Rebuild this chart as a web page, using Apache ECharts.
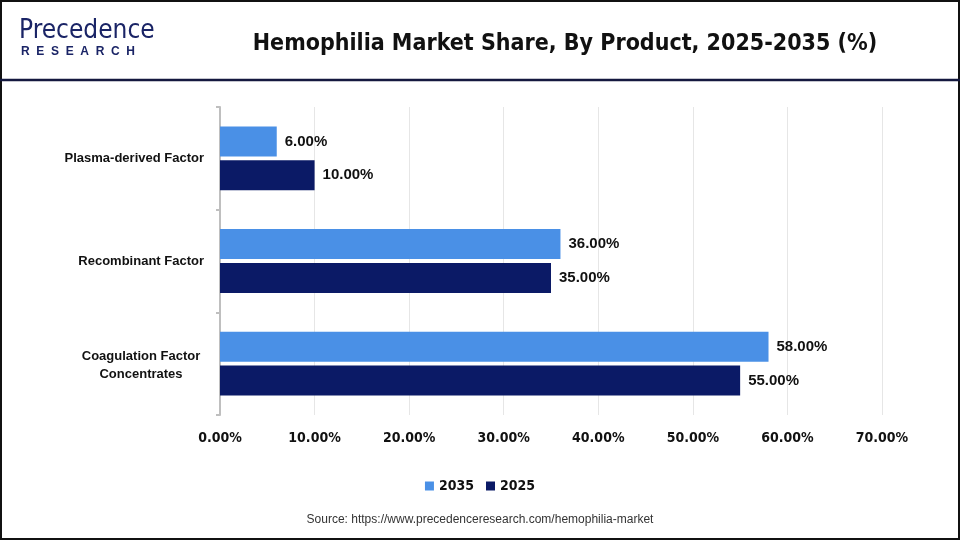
<!DOCTYPE html>
<html><head><meta charset="utf-8">
<script src="https://cdn.jsdelivr.net/npm/echarts@6/dist/echarts.min.js"></script>
<style>html,body{margin:0;padding:0;background:#fff}#c{width:960px;height:540px}</style>
</head><body><div id="c"></div>
<script>
const categories = ['Plasma-derived Factor', 'Recombinant Factor', 'Coagulation Factor\nConcentrates'];
const seriesNames = ['2035', '2025'];
const values2035 = [6, 36, 58];
const values2025 = [10, 35, 55];
const xTicks = [0, 10, 20, 30, 40, 50, 60, 70];

const NARROW = "'Liberation Sans Narrow', 'DejaVu Sans Condensed', 'Roboto Condensed', 'Arial Narrow', sans-serif";
const chart = echarts.init(document.getElementById('c'));
const labelStyle = {show: true, position: 'right', distance: 8, formatter: p => p.value.toFixed(2) + '%',
  fontFamily: 'Liberation Sans', fontWeight: 'bold', fontSize: 15, color: '#111'};
chart.setOption({
  animation: false,
  backgroundColor: '#fff',
  title: {text: 'Hemophilia Market Share, By Product, 2025-2035 (%)', left: 560, top: 28, textAlign: 'center',
    textStyle: {fontFamily: NARROW, fontWeight: 'bold', fontSize: 23, color: '#111'}},
  legend: {data: seriesNames, bottom: 42, left: 'center', itemWidth: 9, itemHeight: 9, itemGap: 12, icon: 'rect',
    textStyle: {fontFamily: NARROW, fontWeight: 'bold', fontSize: 14, color: '#111'}},
  grid: {left: 220, right: 78, top: 107, bottom: 125},
  xAxis: {type: 'value', min: 0, max: xTicks[xTicks.length - 1], interval: 10,
    axisLine: {show: false}, axisTick: {show: false},
    splitLine: {lineStyle: {color: '#e6e6e6', width: 1}},
    axisLabel: {formatter: v => v.toFixed(2) + '%', margin: 16, fontFamily: NARROW, fontWeight: 'bold', fontSize: 14, color: '#111'}},
  yAxis: {type: 'category', data: categories, inverse: true,
    axisLine: {lineStyle: {color: '#bfbfbf', width: 2}},
    axisTick: {show: true, length: 4, lineStyle: {color: '#bfbfbf', width: 2}},
    axisLabel: {margin: 16, fontFamily: 'Liberation Sans', fontWeight: 'bold', fontSize: 13, color: '#111', lineHeight: 18,
      formatter: v => v.indexOf('\n') >= 0 ? v.split('\n').map(s => '{c|' + s + '}').join('\n') : v,
      rich: {c: {width: 126, align: 'center', fontFamily: 'Liberation Sans', fontWeight: 'bold', fontSize: 13, color: '#111', lineHeight: 18, padding: [3, 0, 0, 0]}}}},
  series: [
    {name: '2035', type: 'bar', data: values2035, barWidth: 30, barGap: '13%', itemStyle: {color: '#4a90e6'}, label: labelStyle},
    {name: '2025', type: 'bar', data: values2025, barWidth: 30, barGap: '13%', itemStyle: {color: '#0b1a66'}, label: labelStyle}
  ],
  graphic: [
    {type: 'rect', shape: {x: 1, y: 1, width: 958, height: 538}, style: {fill: 'none', stroke: '#111', lineWidth: 2}, z: 100},
    {type: 'line', shape: {x1: 0, y1: 80, x2: 960, y2: 80}, style: {stroke: '#14183f', lineWidth: 2.5}, z: 100},
    {type: 'text', left: 19, top: 18, style: {text: 'Precedence', fontFamily: NARROW, fontSize: 26, fill: '#1a2466', fontWeight: 'normal'}},
    {type: 'text', left: 21, top: 46, style: {text: 'R  E  S  E  A  R  C  H', fontFamily: 'Liberation Sans', fontSize: 12, fill: '#1a2466', fontWeight: 'bold'}},
    {type: 'text', left: 'center', top: 514, style: {text: 'Source: https://www.precedenceresearch.com/hemophilia-market', fontFamily: 'Liberation Sans', fontSize: 12, fill: '#333'}}
  ]
});
</script></body></html>
